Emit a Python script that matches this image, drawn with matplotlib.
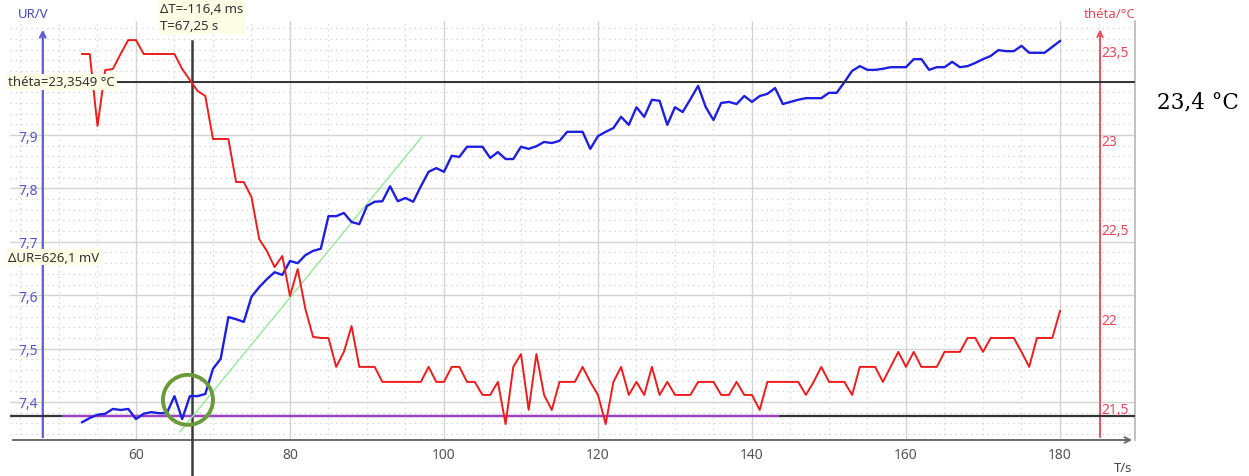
import numpy as np
import matplotlib.pyplot as plt
from matplotlib.patches import Ellipse
from matplotlib.transforms import ScaledTranslation

# --- acquisition: one sample per second -----------------------------------
t = np.arange(53, 181)

ur = [7.362, 7.370, 7.376, 7.378, 7.387, 7.385, 7.387, 7.368, 7.378, 7.381,
      7.379, 7.379, 7.411, 7.368, 7.411, 7.411, 7.415, 7.462, 7.481, 7.559,
      7.555, 7.550, 7.597, 7.615, 7.630, 7.643, 7.638, 7.664, 7.660, 7.675,
      7.683, 7.687, 7.748, 7.748, 7.754, 7.737, 7.733, 7.767, 7.775, 7.776,
      7.804, 7.776, 7.782, 7.775, 7.804, 7.831, 7.838, 7.831, 7.861, 7.859,
      7.878, 7.878, 7.878, 7.857, 7.868, 7.855, 7.855, 7.878, 7.874, 7.879,
      7.887, 7.885, 7.889, 7.906, 7.906, 7.906, 7.874, 7.898, 7.906, 7.913,
      7.934, 7.919, 7.952, 7.934, 7.966, 7.964, 7.919, 7.952, 7.943, 7.967,
      7.992, 7.952, 7.928, 7.960, 7.962, 7.958, 7.973, 7.962, 7.973, 7.977,
      7.988, 7.958, 7.962, 7.966, 7.969, 7.969, 7.969, 7.979, 7.979, 7.999,
      8.020, 8.029, 8.022, 8.022, 8.024, 8.027, 8.027, 8.027, 8.042, 8.042,
      8.022, 8.027, 8.027, 8.037, 8.027, 8.029, 8.035, 8.042, 8.048, 8.059,
      8.057, 8.057, 8.067, 8.054, 8.054, 8.054, 8.065, 8.076]

theta = [23.510, 23.510, 23.107, 23.420, 23.426, 23.510, 23.588, 23.588, 23.510, 23.510,
         23.510, 23.510, 23.510, 23.426, 23.364, 23.303, 23.275, 23.034, 23.034, 23.034,
         22.793, 22.793, 22.709, 22.474, 22.407, 22.317, 22.379, 22.155, 22.306, 22.082,
         21.926, 21.920, 21.920, 21.758, 21.842, 21.987, 21.758, 21.758, 21.758, 21.674,
         21.674, 21.674, 21.674, 21.674, 21.674, 21.758, 21.674, 21.674, 21.758, 21.758,
         21.674, 21.674, 21.601, 21.601, 21.674, 21.438, 21.758, 21.830, 21.517, 21.830,
         21.601, 21.517, 21.674, 21.674, 21.674, 21.758, 21.674, 21.601, 21.438, 21.674,
         21.758, 21.601, 21.674, 21.601, 21.758, 21.601, 21.674, 21.601, 21.601, 21.601,
         21.674, 21.674, 21.674, 21.601, 21.601, 21.674, 21.601, 21.601, 21.517, 21.674,
         21.674, 21.674, 21.674, 21.674, 21.601, 21.674, 21.758, 21.674, 21.674, 21.674,
         21.601, 21.758, 21.758, 21.758, 21.674, 21.758, 21.842, 21.758, 21.842, 21.758,
         21.758, 21.758, 21.842, 21.842, 21.842, 21.920, 21.920, 21.842, 21.920, 21.920,
         21.920, 21.920, 21.842, 21.758, 21.920, 21.920, 21.920, 22.071]

x_ticks = [60, 80, 100, 120, 140, 160, 180]
ur_ticks = [7.4, 7.5, 7.6, 7.7, 7.8, 7.9, 8.0]
ur_labels = ['7,4', '7,5', '7,6', '7,7', '7,8', '7,9', '']   # 8 sits under the théta read-out
th_ticks = [21.5, 22.0, 22.5, 23.0, 23.5]
th_labels = ['21,5', '22', '22,5', '23', '23,5']

# cursors and constructions
t_cursor = 67.25
ur_low = 7.3739          # 8,0 V - 626,1 mV
th_cursor = 23.3549
model_t = [50.5, 143.4]
tangent_t = [65.7, 97.1]
tangent_ur = [7.344, 7.896]
circle_center = (66.75, 7.404)

# view limits
t_lim = (43.64, 189.74)
ur_lim = (7.3288, 8.1135)
th_lim = (21.3487, 23.6948)
t_axis_ur = 47.9
t_axis_th = 185.2

ui_font = 'Noto Sans'
blue_ax = '#5b5bd6'
red_ax = '#e8475a'

fig = plt.figure(figsize=(12.49, 4.77), dpi=100)
ax = fig.add_axes([10 / 1249, 36 / 477, 1125 / 1249, 419 / 477])
ax2 = ax.twinx()

ax.set_xlim(*t_lim)
ax.set_ylim(*ur_lim)
ax2.set_ylim(*th_lim)

for a in (ax, ax2):
    for s in a.spines.values():
        s.set_visible(False)
ax.spines['right'].set_visible(True)
ax.spines['right'].set_color('#b8b8b8')
ax.spines['right'].set_linewidth(1.2)

# grid
ax.set_xticks(x_ticks)
ax.set_xticks(np.arange(45, 190, 5), minor=True)
ax.set_yticks(ur_ticks)
ax.set_yticklabels(ur_labels)
ax.set_yticks(np.arange(7.34, 8.12, 0.02), minor=True)
ax.grid(which='major', color='#d4d4d4', lw=1.0)
ax.grid(which='minor', color='#d6d6d6', lw=0.9, ls=(0, (1.2, 3.0)))
ax.set_axisbelow(True)

ax.tick_params(axis='x', which='both', length=0, pad=5, labelsize=10, labelcolor='#555555')
ax.tick_params(axis='y', which='both', length=0, pad=-20, labelsize=10, labelcolor='#5656c8')
for lbl in ax.get_xticklabels() + ax.get_yticklabels():
    lbl.set_fontfamily(ui_font)

ax2.set_yticks(th_ticks)
ax2.set_yticklabels(th_labels)
ax2.tick_params(axis='y', length=0, pad=-24, labelsize=10, labelcolor=red_ax)
lift = ScaledTranslation(0, 4 / 72, fig.dpi_scale_trans)
for tick in ax2.yaxis.get_major_ticks():
    tick.label2.set_fontfamily(ui_font)
    tick.label2.set_transform(tick.label2.get_transform() + lift)

# axes drawn as arrows
xt = ax.get_xaxis_transform()
ax.annotate('', xy=(t_axis_ur, 0.986), xytext=(t_axis_ur, 0.0), xycoords=xt,
            arrowprops=dict(arrowstyle='->', color=blue_ax, lw=1.6))
ax.annotate('', xy=(t_axis_th, 0.986), xytext=(t_axis_th, 0.0), xycoords=xt,
            arrowprops=dict(arrowstyle='->', color=red_ax, lw=1.3))
ax.annotate('', xy=(1.0, 0.0), xytext=(0.0, 0.0), xycoords='axes fraction',
            arrowprops=dict(arrowstyle='->', color='#6a6a6a', lw=1.4))

# cursor lines
ax.axhline(ur_low, color='#333333', lw=1.6, zorder=3)
ax2.axhline(th_cursor, color='#333333', lw=1.4, zorder=1)
ax.axvline(t_cursor, ymin=-0.086, ymax=0.952, color='#3a3a3a', lw=1.8,
           clip_on=False, zorder=3)
ax.plot(model_t, [ur_low, ur_low], color='#a040c8', lw=1.6, zorder=4)
ax.plot(tangent_t, tangent_ur, color='#99e699', lw=1.0, zorder=4)

# measurements
ax.plot(t, ur, color='#1f1fe0', lw=1.7, zorder=5)
ax2.plot(t, theta, color='#ee1c1c', lw=1.4, zorder=5)

ax.add_patch(Ellipse(circle_center, width=50 / 7.7, height=50 / 534,
                     fill=False, ec='#6a9a3a', lw=2.8, zorder=6))

# axis names and cursor read-outs
fig.text(18 / 1249, 1 - 15 / 477, 'UR/V', color='#4848c0', fontsize=9.5,
         family=ui_font, va='center')
fig.text(1135 / 1249, 1 - 15 / 477, 'théta/°C', color=red_ax, fontsize=9.5,
         family=ui_font, va='center', ha='right')
fig.text(1132 / 1249, 1 - 469 / 477, 'T/s', color='#444444', fontsize=9.5,
         family=ui_font, va='center', ha='right')

box = dict(boxstyle='square,pad=0.15', fc='#fdfde6', ec='none')
fig.text(160 / 1249, 1 - 18 / 477, 'ΔT=-116,4 ms\nT=67,25 s', color='#333333',
         fontsize=9.5, family=ui_font, va='center', linespacing=1.35, bbox=box)
fig.text(8 / 1249, 1 - 83 / 477, 'théta=23,3549 °C', color='#333333',
         fontsize=9.5, family=ui_font, va='center', bbox=box)
fig.text(8 / 1249, 1 - 258 / 477, 'ΔUR=626,1 mV', color='#333333',
         fontsize=9.5, family=ui_font, va='center', bbox=box)

fig.text(1157 / 1249, 1 - 102 / 477, '23,4 °C', color='black', fontsize=15.5,
         family='DejaVu Serif', va='center')

fig.savefig('out.png', dpi=100, facecolor='white')
